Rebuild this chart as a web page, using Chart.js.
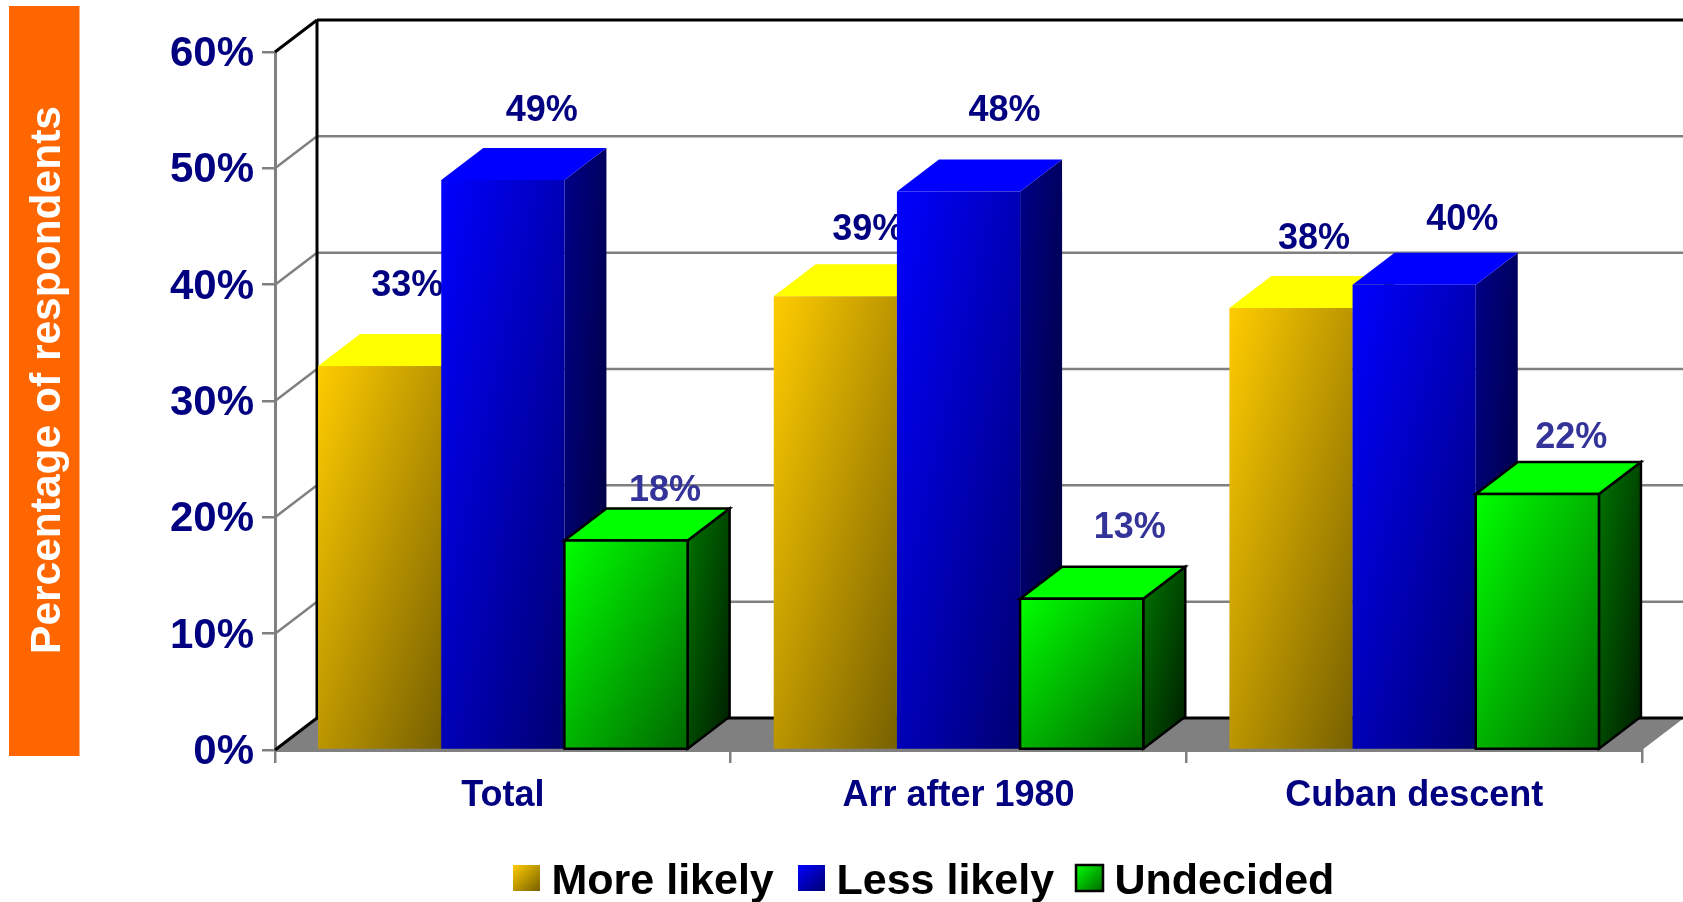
<!DOCTYPE html>
<html>
<head>
<meta charset="utf-8">
<title>Percentage of respondents</title>
<script src="https://cdn.jsdelivr.net/npm/chart.js@4"></script>
<style>
  body { margin: 0; background: #fff; }
  canvas { display: block; }
</style>
</head>
<body>
<canvas id="myChart" width="1683" height="902"></canvas>
<script>
// data
const categories = ['Total', 'Arr after 1980', 'Cuban descent'];
const moreLikely = [33, 39, 38];
const lessLikely = [49, 48, 40];
const undecided = [18, 13, 22];
const seriesNames = ['More likely', 'Less likely', 'Undecided'];
const axisTitle = 'Percentage of respondents';

// hand placed labels in the original, offset from the top of each bar
const labelNudge = [
  [[27.5, -80], [33, -66], [23, -69]],
  [[39, -69], [46, -80.6], [48, -65]],
  [[39, -49.6], [48, -71], [34, -56]]
];

const navy = '#000080';
const font = 'Liberation Sans, Arial, sans-serif';
const depthX = 42;
const depthY = 32;

const looks = [
  { front: ['#ffcc00', '#776000'], side: ['#806600', '#302600'], top: '#ffff00', label: navy, line: null },
  { front: ['#0000ff', '#000070'], side: ['#000088', '#000038'], top: '#0000ff', label: navy, line: null },
  { front: ['#00ff00', '#006800'], side: ['#007400', '#001c00'], top: '#00ff00', label: '#333399', line: '#000' }
];

// gradient that runs corner to corner whatever the shape of the box
function cornerGradient(ctx, x, y, w, h, from, to) {
  const k = 2 * w * h / (w * w + h * h);
  const g = ctx.createLinearGradient(x, y, x + h * k, y + w * k);
  g.addColorStop(0, from);
  g.addColorStop(1, to);
  return g;
}

function poly(ctx, pts, fill, line) {
  ctx.beginPath();
  pts.forEach((p, i) => i ? ctx.lineTo(p[0], p[1]) : ctx.moveTo(p[0], p[1]));
  ctx.closePath();
  ctx.fillStyle = fill;
  ctx.fill();
  if (line) {
    ctx.strokeStyle = line;
    ctx.lineWidth = 2.5;
    ctx.stroke();
  }
}

function segment(ctx, x1, y1, x2, y2, color, width) {
  ctx.beginPath();
  ctx.moveTo(x1, y1);
  ctx.lineTo(x2, y2);
  ctx.strokeStyle = color;
  ctx.lineWidth = width;
  ctx.stroke();
}

function drawWalls(chart) {
  const ctx = chart.ctx;
  const y = chart.scales.y;
  const x = chart.scales.x;
  const left = x.left;
  const right = x.right;
  const base = y.getPixelForValue(0);
  const top = y.getPixelForValue(60);
  const backLeft = left + depthX;

  poly(ctx, [[left, base], [backLeft, base - depthY], [right + depthX, base - depthY], [right, base]], '#808080');

  y.ticks.forEach(t => {
    if (t.value === 0 || t.value === 60) return;
    const py = y.getPixelForValue(t.value);
    segment(ctx, left, py, backLeft, py - depthY, '#808080', 2.5);
    segment(ctx, backLeft, py - depthY, chart.width, py - depthY, '#808080', 2.5);
  });

  segment(ctx, left, top, backLeft, top - depthY, '#000', 3);
  segment(ctx, backLeft, top - depthY, chart.width, top - depthY, '#000', 3);
  segment(ctx, backLeft, top - depthY, backLeft, base - depthY, '#000', 3);
  segment(ctx, left, base, backLeft, base - depthY, '#000', 3);
  segment(ctx, backLeft, base - depthY, chart.width, base - depthY, '#000', 3);
}

function drawBars(chart) {
  const ctx = chart.ctx;
  chart.data.datasets.forEach((ds, d) => {
    const look = looks[d];
    chart.getDatasetMeta(d).data.forEach((bar, i) => {
      const l = bar.x - bar.width / 2;
      const r = bar.x + bar.width / 2;
      const t = bar.y;
      const b = bar.base;

      // label goes first, the next bar is allowed to cover it
      ctx.fillStyle = look.label;
      ctx.font = 'bold 36px ' + font;
      ctx.textAlign = 'center';
      ctx.textBaseline = 'middle';
      ctx.fillText(ds.data[i] + '%', bar.x + labelNudge[d][i][0], t + labelNudge[d][i][1]);

      poly(ctx, [[r, t], [r + depthX, t - depthY], [r + depthX, b - depthY], [r, b]],
        cornerGradient(ctx, r, t - depthY, depthX, b - t + depthY, look.side[0], look.side[1]), look.line);
      poly(ctx, [[l, t], [l + depthX, t - depthY], [r + depthX, t - depthY], [r, t]], look.top, look.line);
      poly(ctx, [[l, t], [r, t], [r, b], [l, b]],
        cornerGradient(ctx, l, t, r - l, b - t, look.front[0], look.front[1]), look.line);
    });
  });
}

function drawSideTitle(chart) {
  const ctx = chart.ctx;
  ctx.save();
  ctx.fillStyle = '#ff6600';
  ctx.fillRect(9, 6, 70.5, 750);
  ctx.translate(60, 380);
  ctx.rotate(-Math.PI / 2);
  ctx.fillStyle = '#fff';
  ctx.font = 'bold 42.5px ' + font;
  ctx.textAlign = 'center';
  ctx.textBaseline = 'alphabetic';
  ctx.fillText(axisTitle, 0, 0);
  ctx.restore();
}

function drawLegend(chart) {
  const ctx = chart.ctx;
  const swatchX = [513, 798, 1076];
  ctx.save();
  ctx.font = 'bold 43px ' + font;
  ctx.textAlign = 'left';
  ctx.textBaseline = 'alphabetic';
  seriesNames.forEach((name, i) => {
    const x = swatchX[i];
    poly(ctx, [[x, 865], [x + 27, 865], [x + 27, 891], [x, 891]],
      cornerGradient(ctx, x, 865, 27, 26, looks[i].front[0], looks[i].front[1]), looks[i].line);
    ctx.fillStyle = '#000';
    ctx.fillText(name, x + 38.5, 894);
  });
  ctx.restore();
}

const chart3d = {
  id: 'chart3d',
  beforeDraw(chart) {
    drawSideTitle(chart);
    drawLegend(chart);
    // tick labels sit a little lower than the canvas middle baseline puts them
    chart.scales.y.getLabelItems().forEach(item => { item.textOffset += 2.5; });
  },
  beforeDatasetsDraw(chart) {
    drawWalls(chart);
    drawBars(chart);
    return false;
  }
};

const myChart = document.querySelector('#myChart');
new Chart(myChart, {
  type: 'bar',
  data: {
    labels: categories,
    datasets: [
      { label: seriesNames[0], data: moreLikely, backgroundColor: '#ffcc00' },
      { label: seriesNames[1], data: lessLikely, backgroundColor: '#0000ff' },
      { label: seriesNames[2], data: undecided, backgroundColor: '#00ff00' }
    ]
  },
  options: {
    responsive: false,
    animation: false,
    categoryPercentage: 0.811,
    barPercentage: 1,
    layout: {
      autoPadding: false,
      padding: { left: 0, right: 41, top: 52, bottom: 0 }
    },
    plugins: {
      legend: { display: false },
      tooltip: { enabled: false }
    },
    scales: {
      x: {
        afterFit(scale) { scale.height = 152; },
        grid: { drawOnChartArea: false, color: '#808080', lineWidth: 2.5, tickLength: 13 },
        border: { color: '#808080', width: 3 },
        ticks: {
          color: navy,
          padding: 11,
          maxRotation: 0,
          font: { family: font, size: 36, weight: 'bold' }
        }
      },
      y: {
        min: 0,
        max: 60,
        afterFit(scale) { scale.width = 275; },
        grid: { drawOnChartArea: false, color: '#808080', lineWidth: 2.5, tickLength: 13 },
        border: { color: '#808080', width: 3 },
        ticks: {
          stepSize: 10,
          color: navy,
          padding: 8,
          callback: v => v + '%',
          font: { family: font, size: 42, weight: 'bold' }
        }
      }
    }
  },
  plugins: [chart3d]
});
</script>
</body>
</html>
